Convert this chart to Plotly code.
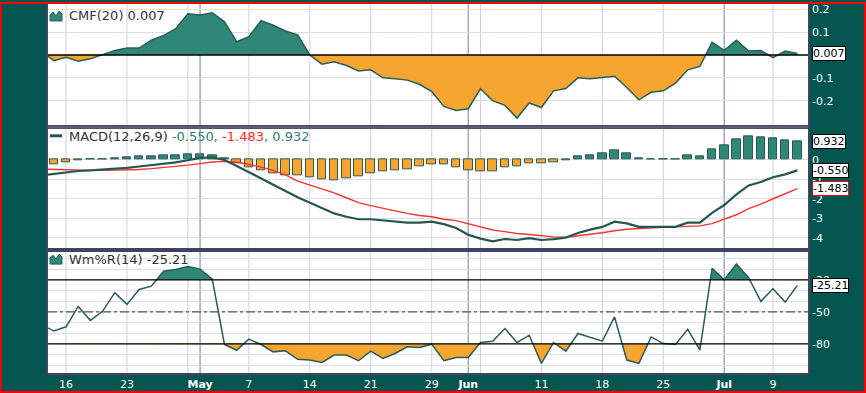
import numpy as np
import pandas as pd
import plotly.graph_objects as go
from plotly.subplots import make_subplots

# ---------------- data ----------------
holidays = ["2012-05-28", "2012-07-04"]
dates = pd.bdate_range("2012-04-12", "2012-07-11")
dates = dates[~dates.isin(pd.to_datetime(holidays))]

cmf = [0.015, -0.025, -0.01, -0.027, -0.017, 0.002, 0.02, 0.03, 0.03, 0.065,
       0.085, 0.115, 0.18, 0.175, 0.185, 0.145, 0.058, 0.08, 0.15, 0.13,
       0.105, 0.088, 0.0, -0.04, -0.03, -0.046, -0.07, -0.065, -0.1, -0.104,
       -0.11, -0.128, -0.16, -0.225, -0.243, -0.235, -0.148, -0.2, -0.22, -0.276,
       -0.21, -0.23, -0.157, -0.147, -0.1, -0.104, -0.1, -0.093, -0.142, -0.196,
       -0.163, -0.157, -0.123, -0.065, -0.05, 0.055, 0.02, 0.065, 0.017, 0.02,
       -0.012, 0.017, 0.007]

macd = [-0.8, -0.72, -0.67, -0.58, -0.55, -0.51, -0.47, -0.42, -0.35, -0.28,
        -0.21, -0.14, -0.03, 0.09, 0.12, -0.02, -0.32, -0.65, -0.95, -1.27,
        -1.6, -1.92, -2.2, -2.5, -2.75, -2.92, -3.05, -3.05, -3.11, -3.18,
        -3.22, -3.22, -3.17, -3.3, -3.5, -3.84, -4.04, -4.18, -4.06, -4.11,
        -4.01, -4.11, -4.07, -3.99, -3.75, -3.58, -3.44, -3.17, -3.26, -3.44,
        -3.44, -3.44, -3.44, -3.22, -3.22, -2.72, -2.32, -1.78, -1.32, -1.14,
        -0.9, -0.75, -0.5504]

signal = [-0.48, -0.5, -0.52, -0.55, -0.55, -0.55, -0.54, -0.52, -0.5, -0.46,
          -0.41, -0.36, -0.28, -0.2, -0.12, -0.09, -0.12, -0.25, -0.38, -0.55,
          -0.78, -1.1, -1.3, -1.5, -1.7, -1.95, -2.2, -2.35, -2.5, -2.62,
          -2.75, -2.86, -2.92, -3.05, -3.12, -3.28, -3.42, -3.6, -3.68, -3.78,
          -3.83, -3.9, -3.95, -3.97, -3.9, -3.82, -3.74, -3.64, -3.56, -3.52,
          -3.48, -3.46, -3.44, -3.42, -3.39, -3.27, -3.05, -2.82, -2.5, -2.28,
          -2.0, -1.73, -1.4826]

willr = [-62, -68, -64, -45, -58, -49.5, -32, -43, -29, -26,
         -12, -10.4, -7.6, -10, -19.5, -80.6, -86, -75.6, -80.6, -87.5,
         -86.5, -94.5, -95.2, -97.4, -90.5, -90.5, -95.8, -86.8, -93.6, -89,
         -82.8, -83.4, -80.3, -95.8, -92.7, -92.7, -78.7, -77.5, -65.7, -78.7,
         -71.9, -98.3, -78.7, -86.8, -70.3, -74, -77.5, -54.8, -95.2, -98.3,
         -73.5, -79.7, -80.6, -66.3, -85.9, -9.2, -20, -5.1, -18, -40.2,
         -28.4, -40.9, -25.21]

tick_dates = ["2012-04-16", "2012-04-23", "2012-05-01", "2012-05-07", "2012-05-14",
              "2012-05-21", "2012-05-29", "2012-06-01", "2012-06-11", "2012-06-18",
              "2012-06-25", "2012-07-02", "2012-07-09"]
tick_text = ["16", "23", "<b>May</b>", "7", "14", "21", "29", "<b>Jun</b>",
             "11", "18", "25", "<b>Jul</b>", "9"]

# ---------------- helpers ----------------
x = np.arange(len(dates), dtype=float)
pos_of = {d.strftime("%Y-%m-%d"): i for i, d in enumerate(dates)}
tickvals = [pos_of[d] for d in tick_dates]

week_starts = [i for i in range(1, len(dates)) if dates[i].weekday() < dates[i - 1].weekday()]
month_starts = [i for i in range(1, len(dates)) if dates[i].month != dates[i - 1].month]


def split_at(xv, yv, thr):
    xs, ys = [xv[0]], [yv[0]]
    for i in range(1, len(xv)):
        y0, y1 = yv[i - 1], yv[i]
        if (y0 - thr) * (y1 - thr) < 0:
            t = (thr - y0) / (y1 - y0)
            xs.append(xv[i - 1] + t * (xv[i] - xv[i - 1]))
            ys.append(thr)
        xs.append(xv[i])
        ys.append(yv[i])
    return np.array(xs), np.array(ys)


GREEN = "#2f8877"
ORANGE = "#f6a531"
LINE = "#2a5d55"
TEAL_BG = "#03554f"
FONT = "DejaVu Sans"

fig = make_subplots(rows=3, cols=1, shared_xaxes=True, vertical_spacing=0)

# ---- CMF ----
cx, cy = split_at(x, np.array(cmf), 0.0)
fig.add_trace(go.Scatter(x=cx, y=np.maximum(cy, 0), fill="tozeroy", fillcolor=GREEN,
                         line=dict(width=0), mode="lines", hoverinfo="skip"), row=1, col=1)
fig.add_trace(go.Scatter(x=cx, y=np.minimum(cy, 0), fill="tozeroy", fillcolor=ORANGE,
                         line=dict(width=0), mode="lines", hoverinfo="skip"), row=1, col=1)
fig.add_trace(go.Scatter(x=x, y=cmf, mode="lines", line=dict(color=LINE, width=1.5)), row=1, col=1)

# ---- MACD ----
hist = np.array(macd) - np.array(signal)
bar_colors = [GREEN if h >= 0 else ORANGE for h in hist]
fig.add_trace(go.Bar(x=x, y=hist, width=0.7, marker=dict(color=bar_colors,
                     line=dict(color="#2b5a50", width=1))), row=2, col=1)
fig.add_trace(go.Scatter(x=x, y=signal, mode="lines", line=dict(color="#ff3030", width=1.4)), row=2, col=1)
fig.add_trace(go.Scatter(x=x, y=macd, mode="lines", line=dict(color="#25574f", width=2.2)), row=2, col=1)

# ---- Williams %R ----
wx, wy = split_at(x, np.array(willr, dtype=float), -20.0)
wx, wy = split_at(wx, wy, -80.0)
fig.add_trace(go.Scatter(x=wx, y=np.full_like(wy, -20.0), mode="lines", line=dict(width=0),
                         hoverinfo="skip"), row=3, col=1)
fig.add_trace(go.Scatter(x=wx, y=np.maximum(wy, -20.0), mode="lines", line=dict(width=0),
                         fill="tonexty", fillcolor=GREEN, hoverinfo="skip"), row=3, col=1)
fig.add_trace(go.Scatter(x=wx, y=np.full_like(wy, -80.0), mode="lines", line=dict(width=0),
                         hoverinfo="skip"), row=3, col=1)
fig.add_trace(go.Scatter(x=wx, y=np.minimum(wy, -80.0), mode="lines", line=dict(width=0),
                         fill="tonexty", fillcolor=ORANGE, hoverinfo="skip"), row=3, col=1)
fig.add_trace(go.Scatter(x=x, y=willr, mode="lines", line=dict(color=LINE, width=1.5)), row=3, col=1)

# ---------------- layout ----------------
L, R, T, B = 48, 58, 2, 20
W, H = 866, 393
pw, ph = W - L - R, H - T - B
d1 = (373 - 126) / ph
d2 = (373 - 249) / ph

xr = [2 - 1.477, 2 + 60.87]
for i in (1, 2, 3):
    fig.update_xaxes(range=xr, showgrid=False, zeroline=False, showline=True, mirror=True,
                     linecolor="#3e4462", linewidth=1.5, ticks="", row=i, col=1,
                     showticklabels=(i == 3))
fig.update_xaxes(tickmode="array", tickvals=tickvals, ticktext=tick_text,
                 tickfont=dict(color="white", size=11, family=FONT), row=3, col=1)

yaxis_common = dict(side="right", showgrid=True, gridcolor="#dcdfe8", gridwidth=1, zeroline=False,
                    showline=True, mirror=True, linecolor="#3e4462", linewidth=1.5, ticks="",
                    tickfont=dict(color="white", size=11, family=FONT), tickmode="array")
fig.update_layout(
    yaxis=dict(domain=[d1, 1], range=[-0.3165, 0.223], tickvals=[0.2, 0.1, -0.1, -0.2],
               ticktext=["0.2", "0.1", "-0.1", "-0.2"], **yaxis_common),
    yaxis2=dict(domain=[d2, d1], range=[-4.605, 1.654], tickvals=[0, -1, -2, -3, -4],
                ticktext=["0", "-1", "-2", "-3", "-4"], **yaxis_common),
    yaxis3=dict(domain=[0, d2], range=[-107.3, 8.23],
                tickvals=[0, -10, -20, -30, -40, -50, -60, -70, -80, -90, -100],
                ticktext=["", "", "-20", "", "", "-50", "", "", "-80", "", ""], **yaxis_common),
)

shapes = []
# vertical gridlines
for i in week_starts:
    if i not in month_starts:
        shapes.append(dict(type="line", xref="x", yref="paper", x0=i, x1=i, y0=0, y1=1,
                           layer="below", line=dict(color="#cdd0de", width=1)))
for i in month_starts:
    shapes.append(dict(type="line", xref="x", yref="paper", x0=i, x1=i, y0=0, y1=1,
                       layer="below", line=dict(color="#a3a6bd", width=1.5)))
# reference lines
shapes.append(dict(type="line", xref="x domain", yref="y", x0=0, x1=1, y0=0, y1=0,
                   line=dict(color="black", width=1.5)))
for lvl in (-20, -80):
    shapes.append(dict(type="line", xref="x3 domain", yref="y3", x0=0, x1=1, y0=lvl, y1=lvl,
                       line=dict(color="black", width=1.2)))
shapes.append(dict(type="line", xref="x3 domain", yref="y3", x0=0, x1=1, y0=-50, y1=-50,
                   line=dict(color="#555555", width=1.3, dash="dashdot")))
# panel separators
shapes.append(dict(type="line", xref="paper", yref="paper", x0=0, x1=1, y0=d1, y1=d1,
                   line=dict(color="#585d72", width=3)))
shapes.append(dict(type="line", xref="paper", yref="paper", x0=0, x1=1, y0=d2, y1=d2,
                   line=dict(color="#3e4462", width=2)))
# legend icons (pixel-sized)
for yy in (1 - 12 / ph, d2 - (258.5 - 249) / ph):
    shapes.append(dict(type="path", xref="paper", yref="paper", xsizemode="pixel",
                       ysizemode="pixel", xanchor=(50 - L) / pw, yanchor=yy,
                       path="M0,-5 L0,1 L3,4 L6,0 L9,5 L12,2 L12,-5 Z",
                       fillcolor=GREEN, line=dict(color=LINE, width=1)))
shapes.append(dict(type="line", xref="paper", yref="paper", x0=(50 - L) / pw, x1=(62 - L) / pw,
                   y0=d1 - (134.5 - 126) / ph, y1=d1 - (134.5 - 126) / ph,
                   line=dict(color="#25574f", width=3)))
# red outer border
shapes.append(dict(type="rect", xref="paper", yref="paper", x0=-L / pw + 0.001, x1=1 + (R - 1) / pw,
                   y0=-(B - 1) / ph, y1=1 + (T - 1) / ph, line=dict(color="#ff0000", width=2)))

annotations = []
tx = (67 - L) / pw
annotations.append(dict(xref="paper", yref="paper", x=tx, y=1 - 12 / ph, xanchor="left",
                        yanchor="middle", showarrow=False, text="CMF(20) 0.007",
                        font=dict(color="#333333", size=13, family=FONT)))
annotations.append(dict(xref="paper", yref="paper", x=tx, y=d1 - (135 - 126) / ph, xanchor="left",
                        yanchor="middle", showarrow=False,
                        text="MACD(12,26,9) <span style='color:#2e7f70'>-0.550</span>"
                             "<span style='color:#ff2a2a'>, -1.483</span>"
                             "<span style='color:#2e7f70'>, 0.932</span>",
                        font=dict(color="#333333", size=13, family=FONT)))
annotations.append(dict(xref="paper", yref="paper", x=tx, y=d2 - (258.5 - 249) / ph, xanchor="left",
                        yanchor="middle", showarrow=False, text="Wm%R(14) -25.21",
                        font=dict(color="#333333", size=13, family=FONT)))

# value boxes on the right
boxes = [("y", cmf[-1], f"{cmf[-1]:.3f}", "black"),
         ("y2", hist[-1], f"{hist[-1]:.3f}", "black"),
         ("y2", macd[-1], f"{macd[-1]:.3f}", "black"),
         ("y2", signal[-1], f"{signal[-1]:.3f}", "#ff0000"),
         ("y3", willr[-1], f"{willr[-1]:.2f}", "black")]
for yref, val, txt, bc in boxes:
    annotations.append(dict(xref="paper", yref=yref, x=1, y=val, xanchor="left", yanchor="middle",
                            xshift=4, showarrow=False, text=txt, bgcolor="white", bordercolor=bc,
                            borderwidth=1, borderpad=0,
                            font=dict(color="black", size=11, family=FONT)))

fig.update_layout(
    width=W, height=H, margin=dict(l=L, r=R, t=T, b=B),
    paper_bgcolor=TEAL_BG, plot_bgcolor="white", showlegend=False, bargap=0,
    shapes=shapes, annotations=annotations, font=dict(family=FONT),
)

fig.write_html("out.html", config={"displayModeBar": False},
               post_script="document.body.style.margin='0';document.body.style.overflow='hidden';")
